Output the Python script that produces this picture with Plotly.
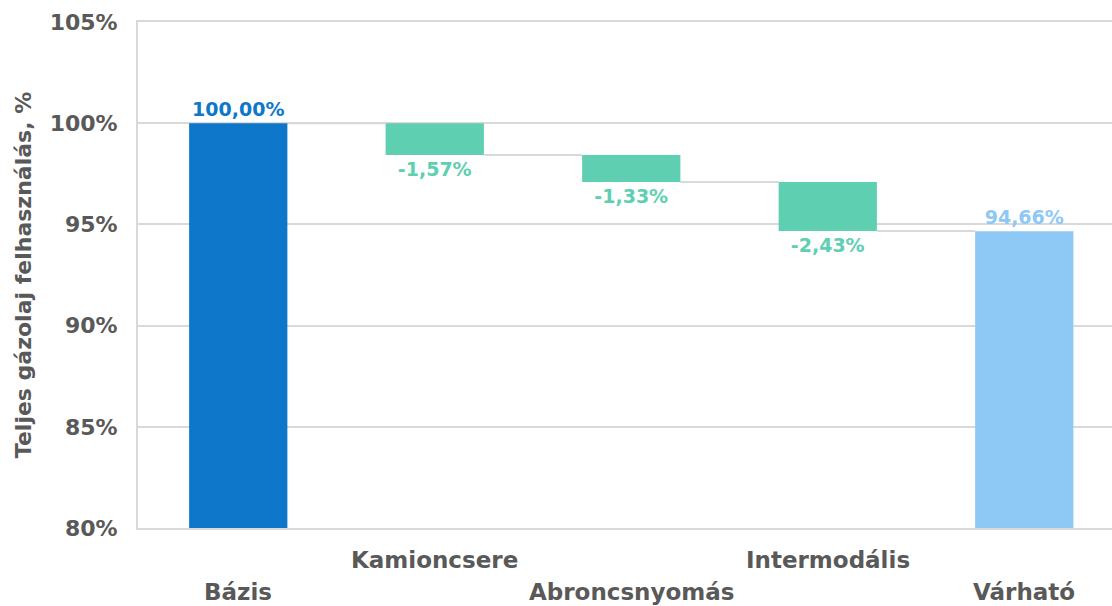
import plotly.graph_objects as go

categories = ["Bázis", "Kamioncsere", "Abroncsnyomás", "Intermodális", "Várható"]
measures = ["absolute", "relative", "relative", "relative", "total"]
values = [100.00, -1.57, -1.33, -2.43, 94.66]
labels = ["100,00%", "-1,57%", "-1,33%", "-2,43%", "94,66%"]
colors = ["#0f77c9", "#5ecfb1", "#5ecfb1", "#5ecfb1", "#8ec8f5"]
y_ticks = [80, 85, 90, 95, 100, 105]
y_ticktext = ["80%", "85%", "90%", "95%", "100%", "105%"]

# compute bases / heights from the waterfall logic
bases, heights, levels = [], [], []
running = 0.0
for m, v in zip(measures, values):
    if m == "relative":
        bases.append(running); heights.append(v); running = running + v
    else:
        bases.append(0.0); heights.append(v); running = v
    levels.append(running)

BAR_W = 0.5
FONT = "DejaVu Sans"
GRAY = "#595959"

fig = go.Figure()
fig.add_trace(go.Bar(
    x=list(range(len(categories))), y=heights, base=bases, width=BAR_W,
    marker=dict(color=colors, line=dict(width=0)),
    text=labels, textposition="outside", cliponaxis=False,
    textfont=dict(family=FONT, size=19, color=colors, weight="bold"),
    hoverinfo="skip",
))

# connectors
for i in range(len(categories) - 1):
    fig.add_shape(type="line", xref="x", yref="y",
                  x0=i + BAR_W / 2, x1=i + 1 - BAR_W / 2,
                  y0=levels[i], y1=levels[i],
                  line=dict(color="#d9d9d9", width=2), layer="below")

# staggered category labels
for i, c in enumerate(categories):
    fig.add_annotation(x=i, xref="x", y=0, yref="paper", yanchor="middle",
                       yshift=-32 if i % 2 else -64, text=c, showarrow=False,
                       font=dict(family=FONT, size=23, color=GRAY, weight="bold"))

left, top, bottom = 138, 22, 78
W, H = 1112, 606
cat_px = 196.5
x_start = -0.5 - 2 / cat_px
x_end = x_start + (W - left) / cat_px

fig.update_layout(
    width=W, height=H, margin=dict(l=left, r=0, t=top, b=bottom, autoexpand=False),
    plot_bgcolor="white", paper_bgcolor="white", showlegend=False,
    xaxis=dict(range=[x_start, x_end], showticklabels=False, showgrid=False,
               showline=True, linecolor="#d9d9d9", linewidth=2, mirror=True,
               zeroline=False, fixedrange=True),
    yaxis=dict(range=[80, 105], tickmode="array", tickvals=y_ticks, ticktext=y_ticktext,
               showgrid=True, gridcolor="#d9d9d9", gridwidth=1.5,
               showline=True, linecolor="#d9d9d9", linewidth=2,
               zeroline=False, ticklabelstandoff=14, automargin=False,
               tickfont=dict(family=FONT, size=22, color=GRAY, weight="bold"),
               title=dict(text="Teljes gázolaj felhasználás, %", standoff=12,
                          font=dict(family=FONT, size=22, color=GRAY, weight="bold"))),
)

fig.write_html("out.html", config={"displayModeBar": False},
               post_script="document.body.style.margin='0';")
